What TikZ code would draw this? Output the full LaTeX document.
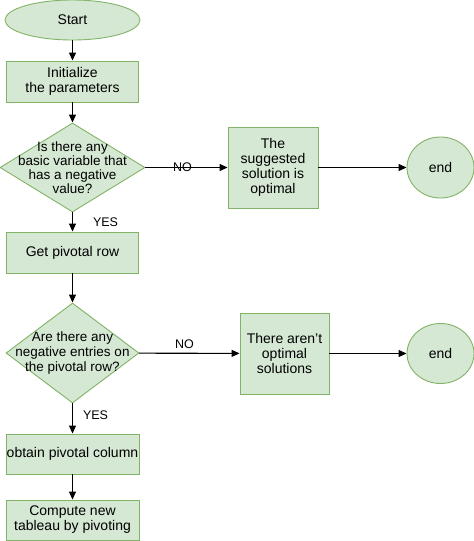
\documentclass[tikz,border=0pt]{standalone}
\usepackage{fontspec}
\setmainfont{Liberation Sans}
\usetikzlibrary{shapes.geometric,arrows.meta}
\definecolor{boxfill}{HTML}{D5E8D4}
\definecolor{boxline}{HTML}{82B366}
\begin{document}
\begin{tikzpicture}[x=1pt,y=-1pt,
  base/.style={fill=boxfill,draw=boxline,line width=0.9pt,inner sep=0pt,align=center,
    font=\fontsize{14}{15}\selectfont},
  procbox/.style={base,rectangle,minimum width=#1},
  termo/.style={base,ellipse},
  decide/.style={base,diamond},
  dtext/.style={align=center,font=\fontsize{13.5}{#1}\selectfont},
  conn/.style={line width=1.1pt,-{Triangle[length=8pt,width=7pt]}},
  lbl/.style={font=\fontsize{12.5}{14}\selectfont,inner sep=0pt}]
\useasboundingbox (0,0) rectangle (474,541);
\node[termo,minimum width=135pt,minimum height=40pt] (start) at (72.5,20) {Start};
\node[procbox=132pt,minimum height=41pt] (init) at (72.5,81.5) {Initialize\\the parameters};
\node[decide,minimum width=145pt,minimum height=89pt,
  label={[dtext=14]center:Is there any\\basic variable that\\has a negative\\value?}] (d1) at (72.5,167.5) {};
\node[procbox=90pt,minimum height=81pt] (opt) at (273,167.5) {The\\suggested\\solution is\\optimal};
\node[termo,minimum width=67pt,minimum height=61pt] (end1) at (440.5,167.5) {end};
\node[procbox=132pt,minimum height=41pt] (row) at (72.5,252.5) {Get pivotal row};
\node[decide,minimum width=133pt,minimum height=100pt,
  label={[dtext=15]center:Are there any\\negative entries on\\the pivotal row?}] (d2) at (72.5,353) {};
\node[procbox=89pt,minimum height=81pt] (none) at (284.5,353.5) {There aren't\\optimal\\solutions};
\node[termo,minimum width=67pt,minimum height=60pt] (end2) at (440.5,353.5) {end};
\node[procbox=133pt,minimum height=40pt] (col) at (72.5,454) {obtain pivotal column};
\node[procbox=133pt,minimum height=40pt] (comp) at (72.5,520) {Compute new\\tableau by pivoting};
\draw[conn] (start) -- (init);
\draw[conn] (init) -- (d1);
\draw[conn] (d1) -- node[lbl,pos=0.45,above=-5pt] {NO} (opt);
\draw[conn] (opt) -- (end1);
\draw[conn] (d1) -- node[lbl,right=20pt,pos=0.5] {YES} (row);
\draw[conn] (row) -- (d2);
\draw[conn] (d2) -- node[lbl,pos=0.45,above=4pt] {NO} (none);
\draw[conn] (none) -- (end2);
\draw[conn] (d2) -- node[lbl,right=10pt,pos=0.4] {YES} (col);
\draw[conn] (col) -- (comp);
\end{tikzpicture}
\end{document}
